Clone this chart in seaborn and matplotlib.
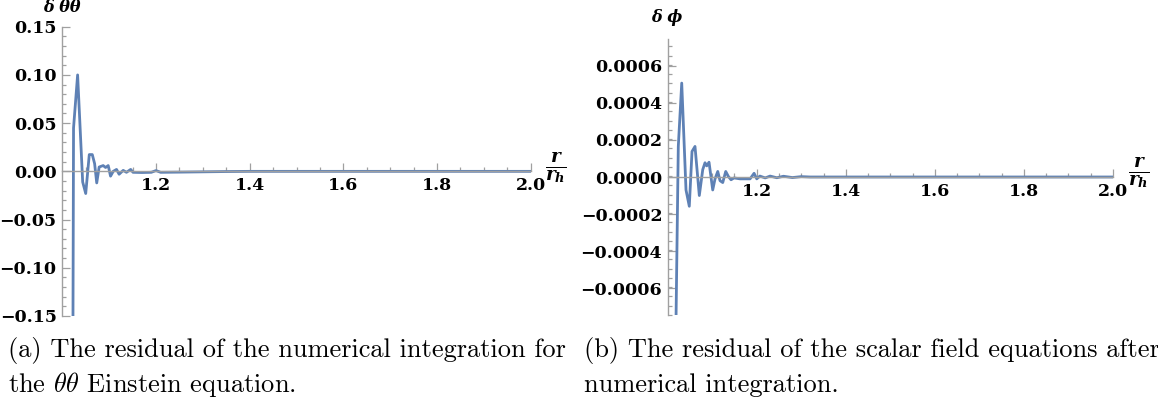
import matplotlib
matplotlib.use("Agg")
import matplotlib.pyplot as plt
import seaborn as sns
import numpy as np
from matplotlib.ticker import FixedLocator, FuncFormatter

sns.set_theme(style="white")
plt.rcParams['font.family'] = ['DejaVu Serif']
plt.rcParams['font.weight'] = 'bold'
plt.rcParams['text.color'] = 'black'

# ---- data ----
r_theta = [1.0225, 1.0240, 1.0327, 1.0435, 1.0500, 1.0576, 1.0640, 1.0690, 1.0735,
           1.0787, 1.0873, 1.0924, 1.0980, 1.1030, 1.1087, 1.1158, 1.1213, 1.1300,
           1.1370, 1.1460, 1.1510, 1.1700, 1.1900, 1.2000, 1.2100, 1.2500, 1.3000,
           1.3500, 1.4000, 1.5000, 1.6000, 1.7000, 1.8000, 1.9000, 2.0000]
res_theta = [-0.200, 0.045, 0.100, -0.011, -0.023, 0.0174, 0.0174, 0.008, -0.012,
             0.0045, 0.006, 0.004, 0.006, -0.005, 0.000, 0.002, -0.003, 0.001,
             -0.001, 0.002, -0.001, -0.0012, -0.001, 0.0008, -0.001, -0.0008, -0.0005,
             -0.0002, 0.0, 0.0, 0.0, 0.0, 0.0, 0.0, 0.0]

r_phi = [1.0185, 1.0238, 1.0315, 1.0411, 1.0485, 1.0546, 1.0613, 1.0710, 1.0787,
         1.0838, 1.0876, 1.0928, 1.1011, 1.1063, 1.1124, 1.1175, 1.1236, 1.1303,
         1.1362, 1.1422, 1.1490, 1.1625, 1.1850, 1.1940, 1.2000, 1.2070, 1.2190,
         1.2300, 1.2450, 1.2600, 1.2800, 1.3000, 1.3200, 1.4000, 1.5000, 1.6000,
         1.7000, 1.8000, 1.9000, 2.0000]
res_phi = [-0.00080, 0.000165, 0.000507, -0.00007, -0.000158, 0.000138, 0.000165, -0.0001, 0.00004,
           0.000077, 0.00006, 0.00008, -0.00007, -0.00001, 0.00003, -0.00002, -0.00003, 0.00003,
           0.000003, -0.000015, -0.000005, -0.00001, -0.00001, 0.00002, -0.00001, 0.000005, -0.000005,
           0.000005, -0.000004, 0.000004, -0.000003, 0.000002, 0.0, 0.0, 0.0, 0.0,
           0.0, 0.0, 0.0, 0.0]

x_major = [1.2, 1.4, 1.6, 1.8, 2.0]
x_minor = [1.05, 1.1, 1.15, 1.25, 1.3, 1.35, 1.45, 1.5, 1.55, 1.65, 1.7, 1.75, 1.85, 1.9, 1.95]
y_major_theta = [-0.15, -0.10, -0.05, 0.0, 0.05, 0.10, 0.15]
y_major_phi = [-0.0006, -0.0004, -0.0002, 0.0, 0.0002, 0.0004, 0.0006]

caption_a = ["(a) The residual of the numerical integration for",
             "the $\\theta\\theta$ Einstein equation."]
caption_b = ["(b) The residual of the scalar field equations after",
             "numerical integration."]

LINE = "#5E81B5"
AXC = "#a0a0a0"
W, H = 1158, 412

fig = plt.figure(figsize=(W / 100, H / 100), dpi=100)
axA = fig.add_axes([62.3 / W, 1 - 316 / H, (530.7 - 62.3) / W, (316 - 26.7) / H])
axB = fig.add_axes([667.7 / W, 1 - 315 / H, (1113 - 667.7) / W, (315 - 39) / H])


def fmt_factory(dec):
    def f(v, pos):
        s = f"{abs(v):.{dec}f}"
        return ("\u2212" + s) if v < -1e-12 else s
    return f


def style(ax, ylim, ymaj, ymin_step, dec):
    ax.set_facecolor("white")
    ax.set_xlim(1.0, 2.0)
    ax.set_ylim(*ylim)
    for s in ["top", "right"]:
        ax.spines[s].set_visible(False)
    ax.spines["bottom"].set_position(("data", 0))
    for s in ["bottom", "left"]:
        ax.spines[s].set_color(AXC)
        ax.spines[s].set_linewidth(1.0)
    ax.xaxis.set_major_locator(FixedLocator(x_major))
    ax.xaxis.set_minor_locator(FixedLocator(x_minor))
    ax.xaxis.set_major_formatter(FuncFormatter(lambda v, p: f"{v:.1f}"))
    ax.yaxis.set_major_locator(FixedLocator(ymaj))
    n = int(round((ylim[1] - ylim[0]) / ymin_step))
    mins = [ylim[0] + i * ymin_step for i in range(n + 1)]
    ax.yaxis.set_minor_locator(FixedLocator(mins))
    ax.yaxis.set_major_formatter(FuncFormatter(fmt_factory(dec)))
    ax.tick_params(axis="both", which="both", direction="in", color=AXC,
                   labelcolor="black", labelsize=12.5, width=0.9,
                   bottom=True, left=True, top=False, right=False)
    ax.tick_params(axis="both", which="major", length=6)
    ax.tick_params(axis="both", which="minor", length=3)
    ax.tick_params(axis="x", which="major", pad=4)
    ax.tick_params(axis="y", which="major", pad=4)
    ax.set_xlabel("")
    ax.set_ylabel("")
    ax.grid(False)


sns.lineplot(x=r_theta, y=res_theta, ax=axA, color=LINE, linewidth=2.0,
             estimator=None, sort=False)
sns.lineplot(x=r_phi, y=res_phi, ax=axB, color=LINE, linewidth=2.0,
             estimator=None, sort=False)

style(axA, (-0.15, 0.15), y_major_theta, 0.01, 2)
style(axB, (-0.000745, 0.000745), y_major_phi, 0.00005, 4)

# y labels on top of axes
fig.text(62 / W, 1 - 8 / H, "δ θθ", ha="center", va="center", fontsize=11.5,
         style="italic", weight="bold")
fig.text(667 / W, 1 - 18 / H, "δ ϕ", ha="center", va="center", fontsize=11.5,
         style="italic", weight="bold")

# x labels (fraction r / r_h)
fig.text(556 / W, 1 - 168 / H, r"$\frac{r}{r_h}$", ha="center", va="center",
         fontsize=19, math_fontfamily="dejavuserif")
fig.text(1139 / W, 1 - 173 / H, r"$\frac{r}{r_h}$", ha="center", va="center",
         fontsize=19, math_fontfamily="dejavuserif")

# captions
for (x0, lines) in [(8, caption_a), (584, caption_b)]:
    fig.text(x0 / W, 1 - 357 / H, lines[0], ha="left", va="baseline",
             fontsize=19, family="cmr10", weight="normal", math_fontfamily="cm",
             color="black")
    fig.text(x0 / W, 1 - 392 / H, lines[1], ha="left", va="baseline",
             fontsize=19, family="cmr10", weight="normal", math_fontfamily="cm",
             color="black")

fig.savefig("out.png", dpi=100, facecolor="white")
